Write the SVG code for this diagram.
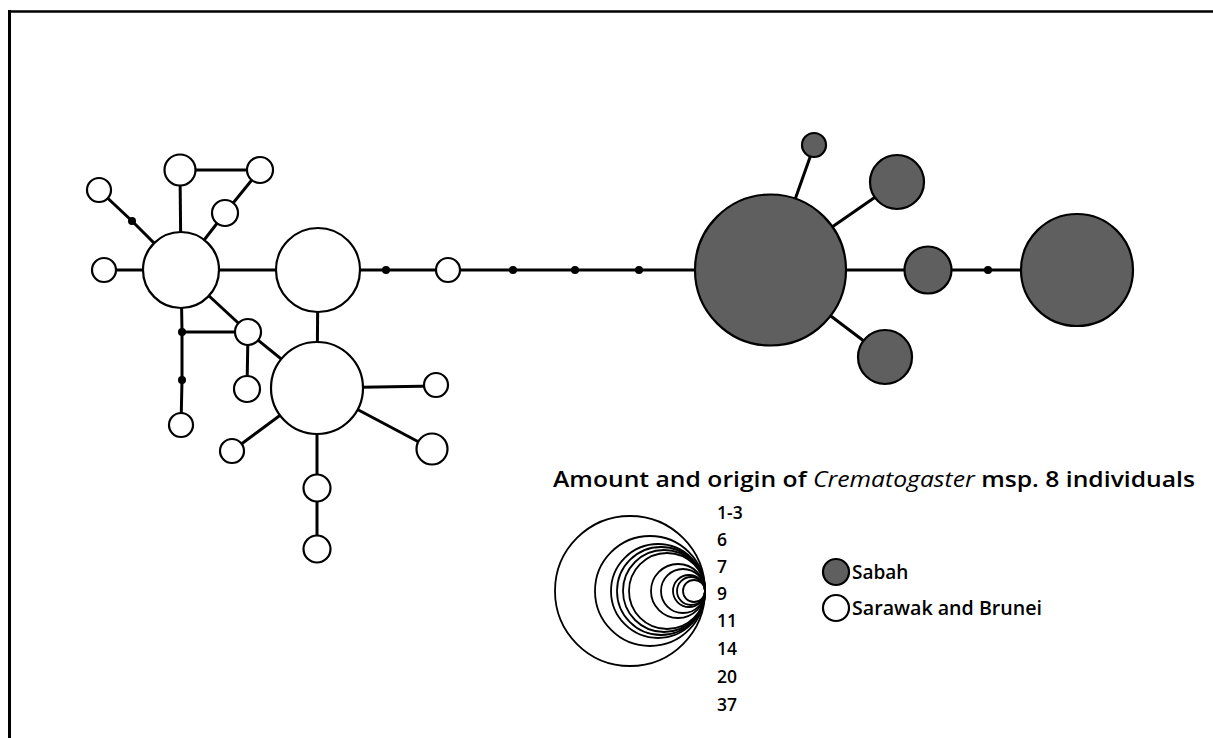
<svg xmlns="http://www.w3.org/2000/svg" width="1213" height="738" viewBox="0 0 1213 738">
<style>
.e{stroke:#000;stroke-width:3;fill:none}
.w{fill:#fff;stroke:#000;stroke-width:2.2}
.g{fill:#5f5f5f;stroke:#000;stroke-width:2.2}
.d{fill:#000}
.lg{fill:none;stroke:#000;stroke-width:1.8}
.t{font-family:"Open Sans","Liberation Sans",sans-serif;font-weight:600;fill:#000}
</style>
<rect width="1213" height="738" fill="#fff"/>
<g id="frame">
<line x1="8" y1="11.5" x2="1213" y2="11.5" stroke="#000" stroke-width="2.5"/>
<line x1="9.5" y1="10" x2="9.5" y2="738" stroke="#000" stroke-width="3"/>
</g>
<g id="connectors">
<line class="e" x1="104" y1="270" x2="181" y2="270"/>
<polyline class="e" points="99,190 132,221 181,270"/>
<line class="e" x1="180" y1="170" x2="181" y2="270"/>
<line class="e" x1="180" y1="170" x2="260" y2="170"/>
<line class="e" x1="260" y1="170" x2="225" y2="213"/>
<line class="e" x1="225" y1="213" x2="181" y2="270"/>
<line class="e" x1="181" y1="270" x2="318" y2="270"/>
<line class="e" x1="181" y1="270" x2="248" y2="332"/>
<line class="e" x1="248" y1="332" x2="317" y2="388"/>
<line class="e" x1="248" y1="332" x2="247" y2="389"/>
<line class="e" x1="182" y1="332" x2="248" y2="332"/>
<polyline class="e" points="181,270 182,332 182,380 181,426"/>
<line class="e" x1="318" y1="270" x2="317" y2="388"/>
<line class="e" x1="317" y1="388" x2="436" y2="386"/>
<line class="e" x1="317" y1="388" x2="432" y2="449"/>
<line class="e" x1="317" y1="388" x2="232" y2="451"/>
<line class="e" x1="317" y1="388" x2="317" y2="548"/>
<line class="e" x1="318" y1="270" x2="770" y2="270"/>
<line class="e" x1="770" y1="270" x2="814" y2="146"/>
<line class="e" x1="770" y1="270" x2="897" y2="182"/>
<line class="e" x1="770" y1="270" x2="1077" y2="270"/>
<line class="e" x1="770" y1="270" x2="885" y2="357"/>
</g>
<g id="dots">
<circle class="d" cx="132" cy="221" r="4"/>
<circle class="d" cx="182" cy="332" r="4"/>
<circle class="d" cx="182" cy="380" r="4"/>
<circle class="d" cx="386" cy="270" r="4"/>
<circle class="d" cx="513" cy="270" r="4"/>
<circle class="d" cx="575" cy="270" r="4"/>
<circle class="d" cx="639" cy="270" r="4"/>
<circle class="d" cx="988" cy="270" r="4"/>
</g>
<g id="nodeA"><circle class="w" cx="181" cy="270" r="38"/></g>
<g id="nodeB"><circle class="w" cx="318" cy="270" r="42"/></g>
<g id="nodeC"><circle class="w" cx="317" cy="388" r="46"/></g>
<g id="n1"><circle class="w" cx="104" cy="270" r="12"/></g>
<g id="n2"><circle class="w" cx="99" cy="190" r="12"/></g>
<g id="n3"><circle class="w" cx="180" cy="170" r="15.5"/></g>
<g id="n4"><circle class="w" cx="260" cy="170" r="13"/></g>
<g id="n5"><circle class="w" cx="225" cy="213" r="13"/></g>
<g id="n6"><circle class="w" cx="248" cy="332" r="13"/></g>
<g id="n7"><circle class="w" cx="247" cy="389" r="13"/></g>
<g id="n8"><circle class="w" cx="181" cy="425" r="12"/></g>
<g id="n9"><circle class="w" cx="436" cy="385" r="12"/></g>
<g id="n10"><circle class="w" cx="432" cy="449" r="15.5"/></g>
<g id="n11"><circle class="w" cx="232" cy="451" r="12"/></g>
<g id="n12"><circle class="w" cx="317" cy="488" r="13.5"/></g>
<g id="n13"><circle class="w" cx="317" cy="549" r="13.5"/></g>
<g id="n14"><circle class="w" cx="448" cy="270" r="12"/></g>
<g id="nodeD"><circle class="g" cx="770.5" cy="270" r="75.5"/></g>
<g id="nodeE"><circle class="g" cx="1077" cy="270" r="56"/></g>
<g id="g1"><circle class="g" cx="814" cy="145" r="12"/></g>
<g id="g2"><circle class="g" cx="897" cy="182" r="27"/></g>
<g id="g3"><circle class="g" cx="928" cy="270" r="23.5"/></g>
<g id="g4"><circle class="g" cx="885" cy="357" r="27"/></g>
<g id="legend">
<text class="t" x="553" y="487" font-size="22" textLength="642" lengthAdjust="spacingAndGlyphs">Amount and origin of <tspan font-style="italic" font-weight="500">Crematogaster</tspan> msp. 8 individuals</text>
<g id="sizes">
<circle class="lg" cx="630" cy="591" r="75"/>
<circle class="lg" cx="650" cy="591" r="55"/>
<circle class="lg" cx="658" cy="591" r="47"/>
<circle class="lg" cx="661" cy="591" r="44"/>
<circle class="lg" cx="664" cy="591" r="41"/>
<circle class="lg" cx="667" cy="591" r="38"/>
<circle class="lg" cx="678" cy="591" r="27"/>
<circle class="lg" cx="683" cy="591" r="22"/>
<circle class="lg" cx="689" cy="591" r="16"/>
<circle class="lg" cx="691" cy="591" r="14"/>
<circle class="lg" cx="694" cy="591" r="11" fill="#fff"/>
</g>
<text class="t" x="717" y="519" font-size="17.5">1-3</text>
<text class="t" x="717" y="546" font-size="17.5">6</text>
<text class="t" x="717" y="573" font-size="17.5">7</text>
<text class="t" x="717" y="600" font-size="17.5">9</text>
<text class="t" x="717" y="627" font-size="17.5">11</text>
<text class="t" x="717" y="655" font-size="17.5">14</text>
<text class="t" x="717" y="683" font-size="17.5">20</text>
<text class="t" x="717" y="711" font-size="17.5">37</text>
<g id="leg-sabah"><circle class="g" cx="836" cy="572" r="13"/><text class="t" x="852" y="579" font-size="19">Sabah</text></g>
<g id="leg-sarawak"><circle class="w" cx="836" cy="608" r="13"/><text class="t" x="852" y="615" font-size="19" textLength="190" lengthAdjust="spacingAndGlyphs">Sarawak and Brunei</text></g>
</g>
</svg>
